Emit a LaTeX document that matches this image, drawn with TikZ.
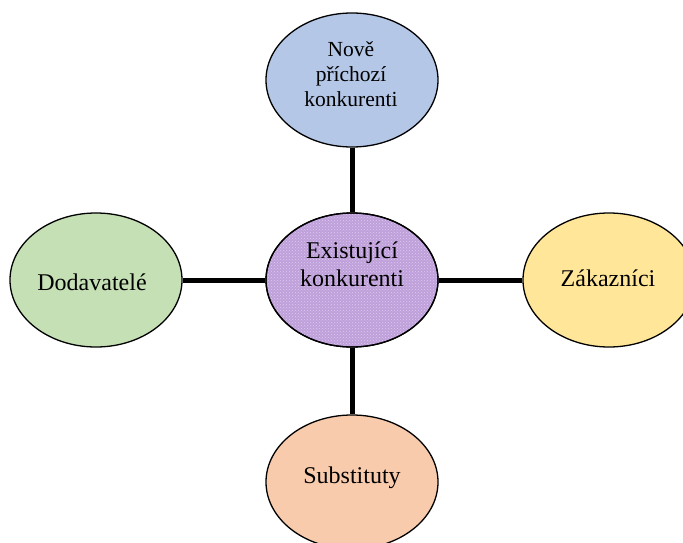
\documentclass[tikz,border=0pt]{standalone}
\usepackage{fontspec}
\setmainfont{Liberation Serif}
\usetikzlibrary{patterns,shapes.geometric}
\definecolor{cblue}{HTML}{B4C7E7}
\definecolor{cpurple}{HTML}{BFA0DA}
\definecolor{cpurplelt}{HTML}{DCCBEE}
\definecolor{cgreen}{HTML}{C5E0B4}
\definecolor{cyellow}{HTML}{FFE699}
\definecolor{corange}{HTML}{F8CBAD}
\begin{document}
\begin{tikzpicture}[x=1pt,y=-1pt,
  oval/.style={ellipse, draw=black, line width=1.3pt, minimum width=172pt, minimum height=134pt, inner sep=0pt},
  conn/.style={line width=5pt, black},
  lbl/.style={align=center, font=\fontsize{24}{28}\selectfont},
  lbltop/.style={align=center, font=\fontsize{21.5}{25}\selectfont}]
\useasboundingbox (0,0) rectangle (683,543);
\node[oval, fill=cblue] (top) at (352,80) {};
\node[oval, fill=cpurple] (mid) at (352,280) {};
\fill[pattern=crosshatch dots, pattern color=cpurplelt] (352,280) ellipse [x radius=85, y radius=66];
\node[oval] (midb) at (352,280) {};
\node[oval, fill=cgreen] (left) at (96,280) {};
\node[oval, fill=cyellow] (right) at (609,280) {};
\node[oval, fill=corange] (bot) at (352,482) {};
\draw[conn] (top.south) -- (mid.north);
\draw[conn] (left.east) -- (mid.west);
\draw[conn] (mid.east) -- (right.west);
\draw[conn] (mid.south) -- (bot.north);
\node[lbltop] (ttop) at (351,74) {Nově\\příchozí\\konkurenti};
\node[lbl] (tmid) at (352,264) {Existující\\konkurenti};
\node[lbl] (tleft) at (92,282) {Dodavatelé};
\node[lbl] (tright) at (608,278) {Zákazníci};
\node[lbl] (tbot) at (352,478) {Substituty};
\end{tikzpicture}
\end{document}
